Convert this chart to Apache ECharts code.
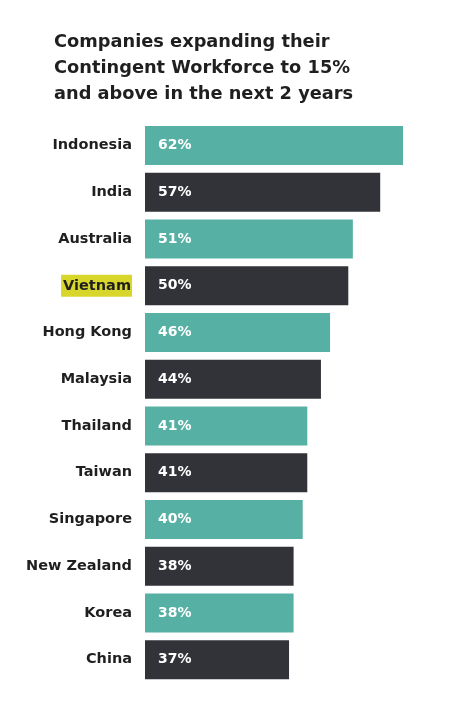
<!DOCTYPE html>
<html>
<head>
<meta charset="utf-8">
<script src="https://cdn.jsdelivr.net/npm/echarts@6/dist/echarts.min.js"></script>
<style>
  html, body { margin: 0; padding: 0; background: #fff; }
  #main { width: 474px; height: 705px; }
</style>
</head>
<body>
<div id="main"></div>
<script>
// chart data
const countries = ['Indonesia', 'India', 'Australia', 'Vietnam', 'Hong Kong', 'Malaysia',
  'Thailand', 'Taiwan', 'Singapore', 'New Zealand', 'Korea', 'China'];
const shares = [62, 57, 51, 50, 46, 44, 41, 41, 40, 38, 38, 37];
const highlighted = 'Vietnam';

const TEAL = '#56b0a3';
const DARK = '#313338';
const FONT = 'DejaVu Sans';

const myChart = echarts.init(document.getElementById('main'));

const barData = shares.map((v, i) => ({
  value: v,
  itemStyle: { color: i % 2 === 0 ? TEAL : DARK }
}));

const options = {
  animation: false,
  title: {
    text: 'Companies expanding their\nContingent Workforce to 15%\nand above in the next 2 years',
    left: 49,
    top: 24,
    textStyle: {
      fontFamily: FONT,
      fontWeight: 'bold',
      fontSize: 17.8,
      lineHeight: 26,
      color: '#1f1f1f'
    }
  },
  grid: { left: 145, right: 71, top: 122, height: 561 },
  xAxis: {
    type: 'value',
    min: 5.4,
    max: 62,
    show: false
  },
  yAxis: {
    type: 'category',
    data: countries,
    inverse: true,
    axisLine: { show: false },
    axisTick: { show: false },
    axisLabel: {
      margin: 13,
      fontFamily: FONT,
      fontWeight: 'bold',
      fontSize: 14.5,
      color: '#1f1f1f',
      formatter: (name) => name === highlighted ? `{hl|${name}}` : name,
      rich: {
        hl: {
          fontFamily: FONT,
          fontWeight: 'bold',
          fontSize: 14.5,
          color: '#1f1f1f',
          backgroundColor: '#d8d62b',
          padding: [4, 1, 3, 2]
        }
      }
    }
  },
  series: [{
    type: 'bar',
    data: barData,
    barWidth: 39,
    label: {
      show: true,
      position: 'insideLeft',
      distance: 13,
      formatter: (p) => p.value + '%',
      fontFamily: FONT,
      fontWeight: 'bold',
      fontSize: 14,
      color: '#fff'
    }
  }]
};

myChart.setOption(options);
</script>
</body>
</html>
